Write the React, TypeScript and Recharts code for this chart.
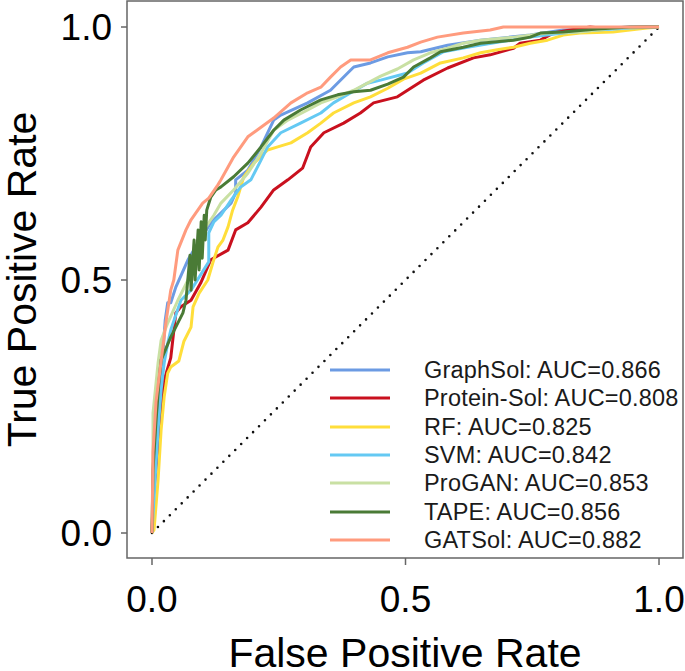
import React from 'react';
import { LineChart, Line, XAxis, YAxis, ReferenceArea, Legend, Label } from 'recharts';

const FONT = '"Liberation Sans", Arial, Helvetica, sans-serif';

const X_MIN = -0.0493;
const X_MAX = 1.0473;
const Y_MIN = -0.0494;
const Y_MAX = 1.0514;
const AXIS_TICKS = [0, 0.5, 1];
const TICK_LABELS = ['0.0', '0.5', '1.0'];

const SERIES_NAMES = ['GraphSol', 'Protein-Sol', 'RF', 'SVM', 'ProGAN', 'TAPE', 'GATSol'];
const SERIES_AUC = ['0.866', '0.808', '0.825', '0.842', '0.853', '0.856', '0.882'];
const SERIES_COLORS = ['#6C9BE3', '#C9101E', '#FFDE3A', '#64C9F3', '#C9E0A3', '#4A7B36', '#FF9B7E'];

const FPR_GRAPHSOL = [0, 0.004, 0.008, 0.012, 0.022, 0.026, 0.031, 0.037, 0.047, 0.071, 0.091, 0.116, 0.156, 0.165, 0.165, 0.189, 0.215, 0.240, 0.254, 0.307, 0.352, 0.386, 0.398, 0.431, 0.465, 0.504, 0.530, 0.583, 0.648, 0.746, 0.811, 0.943, 1];
const TPR_GRAPHSOL = [0, 0.105, 0.204, 0.269, 0.362, 0.420, 0.455, 0.455, 0.486, 0.540, 0.573, 0.613, 0.652, 0.672, 0.698, 0.717, 0.763, 0.816, 0.826, 0.850, 0.875, 0.909, 0.921, 0.929, 0.941, 0.949, 0.951, 0.964, 0.974, 0.984, 0.994, 1, 1];

const FPR_PROTEINSOL = [0, 0.002, 0.012, 0.018, 0.024, 0.037, 0.047, 0.057, 0.077, 0.096, 0.116, 0.150, 0.165, 0.189, 0.215, 0.240, 0.268, 0.297, 0.313, 0.339, 0.378, 0.411, 0.437, 0.484, 0.504, 0.535, 0.583, 0.634, 0.667, 0.713, 0.726, 0.766, 0.791, 0.825, 0.864, 0.884, 1];
const TPR_PROTEINSOL = [0, 0.065, 0.170, 0.249, 0.302, 0.346, 0.435, 0.447, 0.460, 0.494, 0.540, 0.559, 0.599, 0.613, 0.644, 0.678, 0.698, 0.721, 0.763, 0.791, 0.810, 0.830, 0.850, 0.862, 0.875, 0.895, 0.919, 0.939, 0.945, 0.958, 0.968, 0.974, 0.988, 0.994, 1.0, 0.998, 1];

const FPR_RF = [0, 0.004, 0.012, 0.018, 0.024, 0.031, 0.037, 0.053, 0.063, 0.077, 0.081, 0.093, 0.110, 0.120, 0.130, 0.140, 0.150, 0.159, 0.169, 0.181, 0.201, 0.228, 0.248, 0.274, 0.307, 0.333, 0.358, 0.398, 0.431, 0.465, 0.496, 0.530, 0.569, 0.614, 0.648, 0.681, 0.713, 0.746, 0.780, 0.811, 0.844, 0.909, 0.976, 1];
const TPR_RF = [0, 0.006, 0.105, 0.204, 0.269, 0.316, 0.328, 0.340, 0.379, 0.407, 0.447, 0.474, 0.500, 0.534, 0.565, 0.579, 0.605, 0.638, 0.664, 0.704, 0.731, 0.757, 0.763, 0.771, 0.791, 0.810, 0.830, 0.850, 0.862, 0.879, 0.897, 0.909, 0.929, 0.939, 0.949, 0.955, 0.960, 0.968, 0.974, 0.984, 0.988, 0.990, 0.998, 1];

const FPR_SVM = [0, 0.004, 0.012, 0.018, 0.024, 0.031, 0.037, 0.057, 0.077, 0.102, 0.112, 0.112, 0.122, 0.136, 0.156, 0.175, 0.195, 0.215, 0.228, 0.254, 0.293, 0.333, 0.358, 0.392, 0.425, 0.451, 0.504, 0.535, 0.575, 0.622, 0.681, 0.746, 0.811, 0.878, 0.943, 1];
const TPR_SVM = [0, 0.071, 0.204, 0.283, 0.336, 0.375, 0.401, 0.460, 0.480, 0.520, 0.536, 0.593, 0.615, 0.628, 0.658, 0.684, 0.698, 0.737, 0.763, 0.791, 0.810, 0.830, 0.850, 0.870, 0.889, 0.895, 0.909, 0.929, 0.951, 0.960, 0.970, 0.980, 0.988, 0.994, 0.998, 1];

const FPR_PROGAN = [0, 0.002, 0.002, 0.012, 0.018, 0.031, 0.051, 0.071, 0.087, 0.102, 0.122, 0.136, 0.161, 0.189, 0.215, 0.240, 0.268, 0.307, 0.333, 0.366, 0.398, 0.425, 0.451, 0.484, 0.516, 0.549, 0.583, 0.614, 0.648, 0.713, 0.780, 0.844, 0.909, 1];
const TPR_PROGAN = [0, 0.12, 0.237, 0.336, 0.381, 0.415, 0.460, 0.500, 0.549, 0.599, 0.628, 0.652, 0.678, 0.711, 0.751, 0.796, 0.816, 0.836, 0.850, 0.862, 0.875, 0.889, 0.903, 0.917, 0.935, 0.949, 0.958, 0.968, 0.974, 0.980, 0.988, 0.990, 0.998, 1];

const FPR_TAPE = [0, 0.002, 0.008, 0.014, 0.018, 0.037, 0.061, 0.067, 0.075, 0.077, 0.083, 0.085, 0.091, 0.093, 0.097, 0.099, 0.103, 0.105, 0.108, 0.116, 0.126, 0.136, 0.161, 0.189, 0.215, 0.240, 0.260, 0.293, 0.333, 0.366, 0.398, 0.431, 0.465, 0.496, 0.516, 0.549, 0.569, 0.614, 0.648, 0.713, 0.746, 0.766, 0.811, 0.878, 0.943, 1];
const TPR_TAPE = [0, 0.125, 0.223, 0.302, 0.342, 0.387, 0.435, 0.460, 0.549, 0.480, 0.579, 0.500, 0.599, 0.520, 0.615, 0.543, 0.628, 0.579, 0.638, 0.664, 0.678, 0.684, 0.704, 0.731, 0.763, 0.796, 0.816, 0.836, 0.856, 0.866, 0.872, 0.875, 0.887, 0.901, 0.921, 0.939, 0.951, 0.960, 0.968, 0.974, 0.980, 0.988, 0.990, 0.996, 1, 1];

const FPR_GATSOL = [0, 0.002, 0.008, 0.018, 0.028, 0.037, 0.043, 0.051, 0.067, 0.077, 0.100, 0.112, 0.130, 0.136, 0.161, 0.189, 0.215, 0.240, 0.274, 0.307, 0.333, 0.352, 0.372, 0.392, 0.431, 0.465, 0.504, 0.530, 0.563, 0.614, 0.667, 0.693, 1];
const TPR_GATSOL = [0, 0.16, 0.26, 0.34, 0.42, 0.48, 0.50, 0.559, 0.599, 0.619, 0.652, 0.662, 0.688, 0.698, 0.743, 0.783, 0.802, 0.820, 0.850, 0.870, 0.881, 0.901, 0.921, 0.935, 0.935, 0.949, 0.960, 0.970, 0.980, 0.988, 0.994, 1, 1];

const DIAG_FPR = [0, 1];
const DIAG_TPR = [0, 1];

const zip = (fpr: number[], tpr: number[]) => fpr.map((x, i) => ({ fpr: x, tpr: tpr[i] }));

const SERIES_DATA = [
  zip(FPR_GRAPHSOL, TPR_GRAPHSOL),
  zip(FPR_PROTEINSOL, TPR_PROTEINSOL),
  zip(FPR_RF, TPR_RF),
  zip(FPR_SVM, TPR_SVM),
  zip(FPR_PROGAN, TPR_PROGAN),
  zip(FPR_TAPE, TPR_TAPE),
  zip(FPR_GATSOL, TPR_GATSOL),
];
const DIAG_DATA = zip(DIAG_FPR, DIAG_TPR);

const fmt = (v: number) => TICK_LABELS[AXIS_TICKS.indexOf(v)] ?? v.toFixed(1);

const LegendBox = () => (
  <div style={{ fontFamily: FONT }}>
    {SERIES_NAMES.map((name, i) => (
      <div key={name} style={{ display: 'flex', alignItems: 'center', height: 28.33 }}>
        <svg width={60} height={6} style={{ display: 'block' }}>
          <line x1={0} y1={3} x2={60} y2={3} stroke={SERIES_COLORS[i]} strokeWidth={3} />
        </svg>
        <span
          style={{
            marginLeft: 34,
            fontSize: 23.5,
            letterSpacing: 0.2,
            color: '#1a1a1a',
            whiteSpace: 'nowrap',
            lineHeight: '28px',
          }}
        >
          {name}: AUC={SERIES_AUC[i]}
        </span>
      </div>
    ))}
  </div>
);

export default function App() {
  return (
    <div style={{ position: 'absolute', left: 0, top: 0, width: 685, height: 671, background: '#fff', overflow: 'hidden' }}>
      <LineChart width={685} height={671} margin={{ top: 1, right: 2, left: 0, bottom: 0 }}>
        <XAxis
          dataKey="fpr"
          type="number"
          domain={[X_MIN, X_MAX]}
          allowDataOverflow
          ticks={AXIS_TICKS}
          tickFormatter={fmt}
          axisLine={false}
          tickLine={{ stroke: '#666', strokeWidth: 1.5 }}
          tickSize={7}
          tickMargin={21}
          height={113}
          tick={{ fontSize: 37, fill: '#000', fontFamily: FONT }}
          interval={0}
        >
          <Label
            content={({ viewBox }: any) => (
              <text
                x={viewBox.x + viewBox.width / 2}
                y={viewBox.y + viewBox.height - 4}
                textAnchor="middle"
                fontSize={41}
                fontFamily={FONT}
                fill="#000"
              >
                False Positive Rate
              </text>
            )}
          />
        </XAxis>
        <YAxis
          dataKey="tpr"
          type="number"
          domain={[Y_MIN, Y_MAX]}
          allowDataOverflow
          ticks={AXIS_TICKS}
          tickFormatter={fmt}
          axisLine={false}
          tickLine={{ stroke: '#666', strokeWidth: 1.5 }}
          tickSize={6}
          tickMargin={9}
          width={127}
          tick={{ fontSize: 37, fill: '#000', fontFamily: FONT }}
          interval={0}
        >
          <Label
            content={({ viewBox }: any) => {
              const cx = 36;
              const cy = viewBox.y + viewBox.height / 2;
              return (
                <text
                  x={cx}
                  y={cy}
                  transform={`rotate(-90, ${cx}, ${cy})`}
                  textAnchor="middle"
                  fontSize={41}
                  fontFamily={FONT}
                  fill="#000"
                >
                  True Positive Rate
                </text>
              );
            }}
          />
        </YAxis>
        <ReferenceArea
          x1={X_MIN}
          x2={X_MAX}
          y1={Y_MIN}
          y2={Y_MAX}
          fill="none"
          fillOpacity={0}
          stroke="#666"
          strokeWidth={1.5}
          ifOverflow="visible"
        />
        <Line
          data={DIAG_DATA}
          dataKey="tpr"
          stroke="#111"
          strokeWidth={2.6}
          strokeDasharray="0 8.4"
          strokeLinecap="round"
          dot={false}
          activeDot={false}
          isAnimationActive={false}
          legendType="none"
        />
        {SERIES_DATA.map((d, i) => (
          <Line
            key={SERIES_NAMES[i]}
            data={d}
            dataKey="tpr"
            name={SERIES_NAMES[i]}
            stroke={SERIES_COLORS[i]}
            strokeWidth={3}
            strokeLinejoin="round"
            dot={false}
            activeDot={false}
            isAnimationActive={false}
          />
        ))}
        <Legend
          layout="vertical"
          align="center"
          verticalAlign="middle"
          content={() => <LegendBox />}
          wrapperStyle={{ position: 'absolute', left: 330, top: 356, width: 355, height: 200 }}
        />
      </LineChart>
    </div>
  );
}
